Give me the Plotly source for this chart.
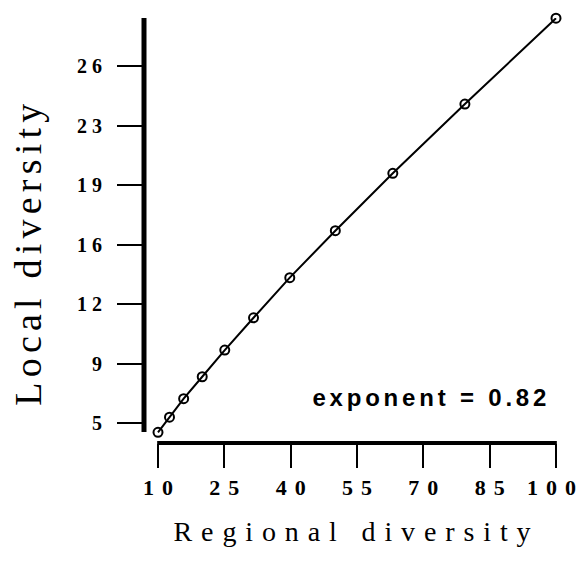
import plotly.graph_objects as go

# ---- data ----
regional = [10, 12.6, 15.8, 20.0, 25.1, 31.6, 39.8, 50.1, 63.1, 79.4, 100]
local = [4.45, 5.34, 6.43, 7.72, 9.29, 11.19, 13.55, 16.31, 19.69, 23.76, 28.81]

x_tickvals = [10, 25, 40, 55, 70, 85, 100]
x_ticktext = ["10", "25", "40", "55", "70", "85", "100"]
y_tickvals = [5, 8.5, 12, 15.5, 19, 22.5, 26]
y_ticktext = ["5", "9", "12", "16", "19", "23", "26"]

x_title = "Regional diversity"
y_title = "Local diversity"
note = "exponent = 0.82"

# ---- axes geometry ----
X_RANGE = [6.834, 100.905]
Y_RANGE = [3.8235, 28.8235]
X_LINE = [10, 100]
Y_LINE = [4.47, 28.82]


def xp(v):
    return (v - X_RANGE[0]) / (X_RANGE[1] - X_RANGE[0])


def yp(v):
    return (v - Y_RANGE[0]) / (Y_RANGE[1] - Y_RANGE[0])


fig = go.Figure()
fig.add_trace(go.Scatter(
    x=regional, y=local, mode="lines+markers",
    line=dict(color="black", width=2),
    marker=dict(symbol="circle-open", size=9, color="black", line=dict(width=2, color="black")),
    cliponaxis=False, showlegend=False,
))

serif = "Liberation Serif, Times New Roman, serif"
sans = "Liberation Sans, Arial, Helvetica, sans-serif"

fig.update_layout(
    template="none",
    width=578, height=561,
    margin=dict(l=144, r=18, t=18, b=118, autoexpand=False),
    paper_bgcolor="white", plot_bgcolor="white",
    xaxis=dict(range=X_RANGE, tickvals=x_tickvals, ticktext=x_ticktext, automargin=False,
               showgrid=False, zeroline=False, showline=False,
               ticks="outside", ticklen=24, tickwidth=2, tickcolor="black",
               tickfont=dict(family=serif, size=22, color="black", weight="bold"),
               ticklabelstandoff=1),
    yaxis=dict(range=Y_RANGE, tickvals=y_tickvals, ticktext=y_ticktext, automargin=False,
               showgrid=False, zeroline=False, showline=False,
               ticks="outside", ticklen=26, tickwidth=2, tickcolor="black",
               tickfont=dict(family=serif, size=20, color="black", weight="bold"),
               ticklabelstandoff=11),
    shapes=[
        dict(type="line", xref="paper", yref="paper", x0=0, x1=0,
             y0=yp(Y_LINE[0]), y1=yp(Y_LINE[1]), line=dict(color="black", width=5)),
        dict(type="line", xref="paper", yref="paper", x0=xp(X_LINE[0]) - 0.002, x1=xp(X_LINE[1]) + 0.002,
             y0=0, y1=0, line=dict(color="black", width=4)),
    ],
    annotations=[
        dict(text=note, xref="x", yref="y", x=71.5, y=6.5, xanchor="center", yanchor="middle",
             showarrow=False, font=dict(family=sans, size=24, color="black", weight="bold")),
        dict(text=x_title, xref="paper", yref="paper", x=0.5, y=-0.209, xanchor="center", yanchor="middle",
             showarrow=False, font=dict(family=serif, size=28, color="black")),
        dict(text=y_title, xref="paper", yref="paper", x=-0.28, y=0.443, xanchor="center", yanchor="middle",
             textangle=-90, showarrow=False, font=dict(family=serif, size=38, color="black")),
    ],
)

post = """
document.body.style.margin = '0';
document.body.style.overflow = 'hidden';
var gd = document.getElementById('{plot_id}');
function spread(el, gap, target){
  var n = el.textContent.length;
  var w = el.getComputedTextLength();
  var L = target ? target : w + gap * (n - 1);
  el.setAttribute('lengthAdjust', 'spacing');
  el.setAttribute('textLength', L);
}
gd.querySelectorAll('.xtick text').forEach(function(e){ spread(e, 8); });
gd.querySelectorAll('.ytick text').forEach(function(e){ spread(e, 5); });
var ann = gd.querySelectorAll('.annotation-text');
var tg = [234, 357, 302];
ann.forEach(function(e, i){ if (i < tg.length) spread(e, 0, tg[i]); });
gd.querySelectorAll('.xtick text').forEach(function(e){
  var r = e.getBoundingClientRect();
  if (r.right > 576) {
    e.setAttribute('x', (parseFloat(e.getAttribute('x')) || 0) - (r.right - 576));
  }
});
"""

fig.write_html("out.html", config={"displayModeBar": False}, post_script=post)
